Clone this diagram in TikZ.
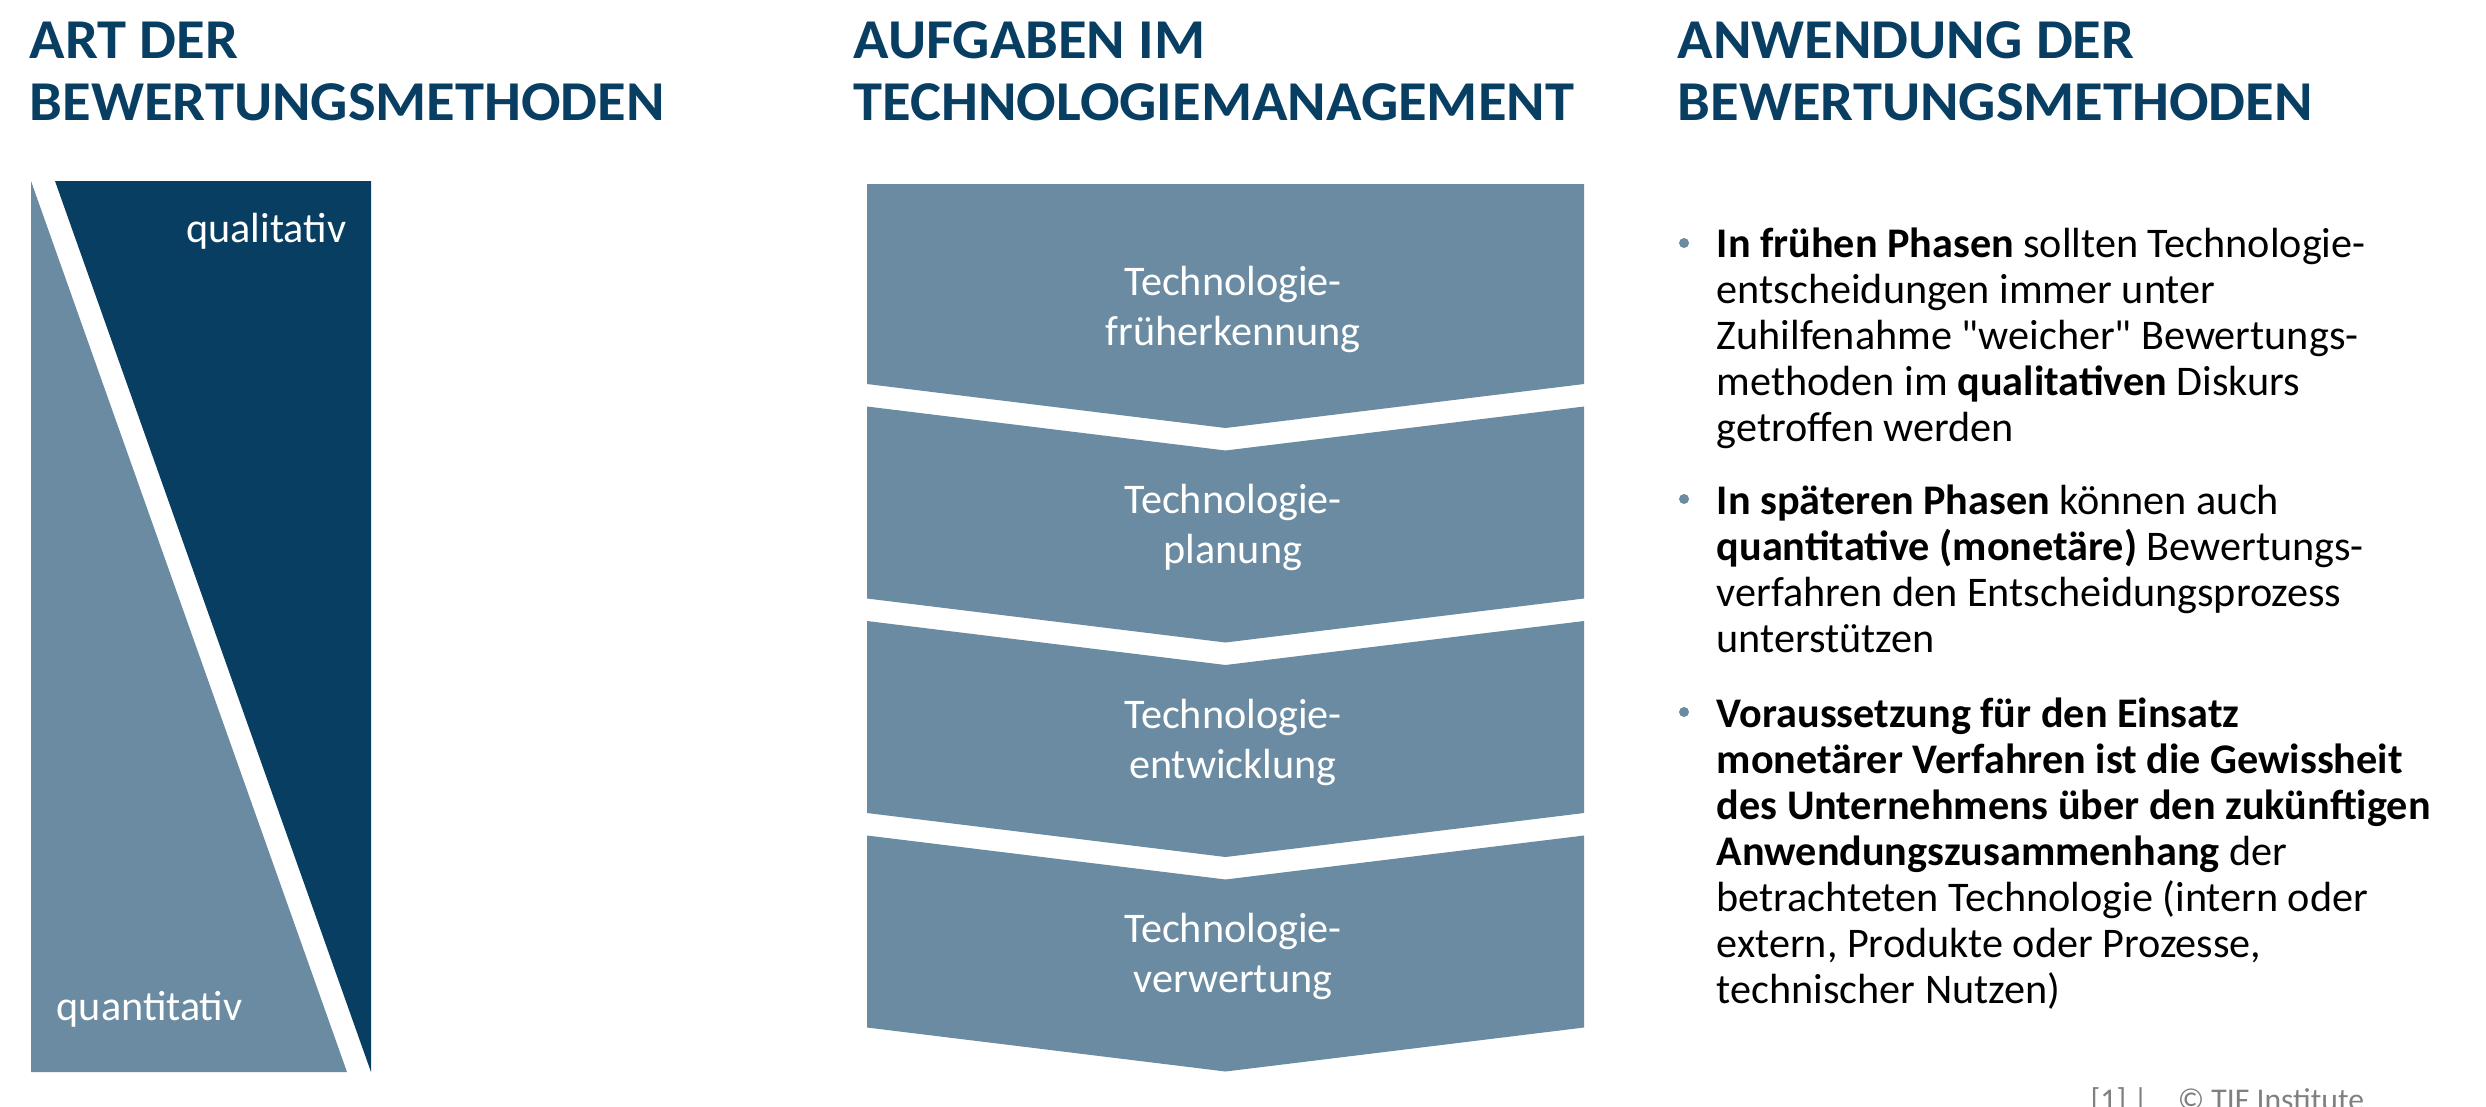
\documentclass[tikz,border=0pt]{standalone}
\usepackage{fontspec}
\setmainfont{Carlito}
\newfontfamily\headfont{Carlito}[BoldFeatures={FakeStretch=1.04}]
\newfontfamily\rawfont{Carlito}
\usetikzlibrary{positioning}
\definecolor{navy}{HTML}{083E62}
\definecolor{slate}{HTML}{6A8BA1}
\definecolor{footgray}{HTML}{808080}
% lines stacked from the first baseline down
\newcommand{\lines}[1]{\begin{tabular}[t]{@{}l@{}}#1\end{tabular}}

\begin{document}
\begin{tikzpicture}[
  x=0.01cm, y=-0.01cm,
  head/.style={anchor=base west, inner sep=0pt, text=navy, font=\headfont\fontsize{16}{17.75}\selectfont\bfseries},
  label/.style={inner sep=0pt, text=white, font=\fontsize{12}{14.2}\selectfont},
  chevtext/.style={label, align=center},
  item/.style={anchor=base west, inner sep=0pt, font=\rawfont\fontsize{12}{13.09}\selectfont},
  dot/.style={circle, fill=slate, inner sep=0pt, minimum size=0.1cm}
]
\useasboundingbox (0,0) rectangle (2486,1106);

% headings
\node[head] (headart) at (29,58) {\lines{ART DER\\BEWERTUNGSMETHODEN}};
\node[head] (headtask) at (853,58) {\lines{AUFGABEN IM\\TECHNOLOGIEMANAGEMENT}};
\node[head] (headuse) at (1677,58) {\lines{ANWENDUNG DER\\BEWERTUNGSMETHODEN}};

% left: qualitativ vs. quantitativ
\fill[navy] (55,181) -- (371,181) -- (371,1072) -- cycle;
\fill[slate] (31,181) -- (347,1072) -- (31,1072) -- cycle;
\node[label, anchor=base east] (qual) at (347,242) {qualitativ};
\node[label, anchor=base west] (quant) at (56,1020) {quantitativ};

% middle: chevrons
\foreach \i/\word in {0/früherkennung,1/planung,2/entwicklung,3/verwertung}{
  \pgfmathsetmacro\yb{384+214.5*\i}
  \pgfmathsetmacro\yt{\i==0 ? 184 : \yb-192}
  \pgfmathsetmacro\dn{\i==0 ? 0 : 44}
  \fill[slate] (867,\yt) -- (1225.5,\yt+\dn) -- (1584,\yt) -- (1584,\yb) -- (1225.5,\yb+44) -- (867,\yb) -- cycle;
  \node[chevtext] (task\i) at (1233,{(\yt+\yb+44)/2+3}) {Technologie-\\\word};
}

% right: bullets
\node[item] (use1) at (1716,257) {\lines{\textbf{In frühen Phasen} sollten Technologie-\\entscheidungen immer unter\\Zuhilfenahme "weicher" Bewertungs-\\methoden im \textbf{qualitativen} Diskurs\\getroffen werden}};
\node[item] (use2) at (1716,514) {\lines{\textbf{In späteren Phasen} können auch\\\textbf{quantitative (monetäre)} Bewertungs-\\verfahren den Entscheidungsprozess\\unterstützen}};
\node[item] (use3) at (1716,727) {\lines{\textbf{Voraussetzung für den Einsatz}\\\textbf{monetärer Verfahren ist die Gewissheit}\\\textbf{des Unternehmens über den zukünftigen}\\\textbf{Anwendungszusammenhang} der\\betrachteten Technologie (intern oder\\extern, Produkte oder Prozesse,\\technischer Nutzen)}};
\node[dot] (dot1) at (1684,243) {};
\node[dot] (dot2) at (1684,499) {};
\node[dot] (dot3) at (1684,712) {};

\node[anchor=base west, inner sep=0pt, text=footgray, font=\fontsize{9}{11}\selectfont] (foot) at (2090,1110) {[1] |\hspace{0.3cm}© TIF Institute};
\end{tikzpicture}
\end{document}
